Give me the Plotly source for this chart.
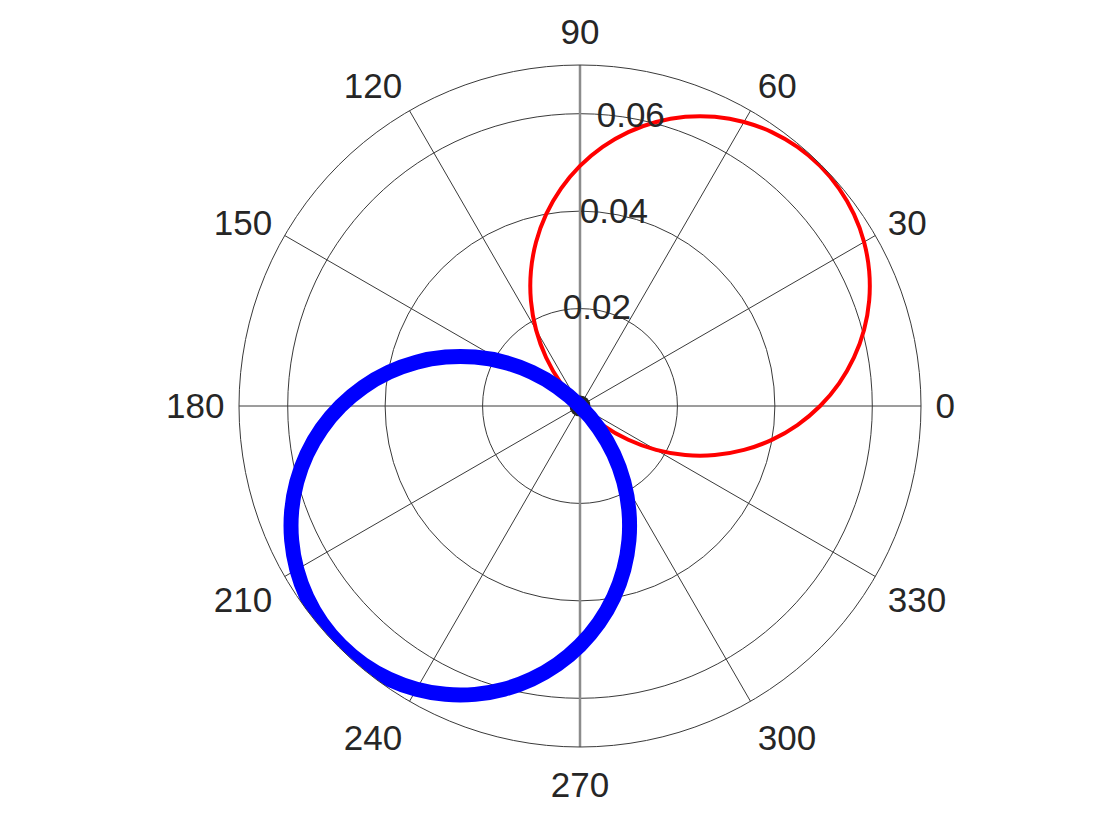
import plotly.graph_objects as go

# Red lobe (theta in degrees, r values)
red_theta = [-45, -40, -35, -30, -25, -20, -15, -10, -5, 0, 5, 10, 15, 20, 25, 30, 35, 40,
             45, 50, 55, 60, 65, 70, 75, 80, 85, 90, 95, 100, 105, 110, 115, 120, 125, 130, 135]
red_r = [0.0, 0.00608, 0.01210, 0.01804, 0.02384, 0.02946, 0.03485, 0.03998, 0.04480,
         0.04929, 0.05339, 0.05709, 0.06036, 0.06317, 0.06550, 0.06733, 0.06864, 0.06943,
         0.06970, 0.06943, 0.06864, 0.06733, 0.06550, 0.06317, 0.06036, 0.05709, 0.05339,
         0.04929, 0.04480, 0.03998, 0.03485, 0.02946, 0.02384, 0.01804, 0.01210, 0.00608, 0.0]

# Blue lobe
blue_theta = [135, 140, 145, 150, 155, 160, 165, 170, 175, 180, 185, 190, 195, 200, 205, 210,
              215, 220, 225, 230, 235, 240, 245, 250, 255, 260, 265, 270, 275, 280, 285, 290,
              295, 300, 305, 310, 315]
blue_r = [0.0, 0.00606, 0.01207, 0.01799, 0.02377, 0.02937, 0.03475, 0.03986, 0.04467,
          0.04914, 0.05324, 0.05693, 0.06019, 0.06299, 0.06531, 0.06713, 0.06844, 0.06924,
          0.06950, 0.06924, 0.06844, 0.06713, 0.06531, 0.06299, 0.06019, 0.05693, 0.05324,
          0.04914, 0.04467, 0.03986, 0.03475, 0.02937, 0.02377, 0.01799, 0.01207, 0.00606, 0.0]

# Axis settings
r_max = 0.07
r_ticks = [0.02, 0.04, 0.06]
r_tick_labels = ["0.02", "0.04", "0.06"]
r_label_angle = 80
theta_ticks = [0, 30, 60, 90, 120, 150, 180, 210, 240, 270, 300, 330]
theta_tick_labels = [str(t) for t in theta_ticks]

# Gray vertical reference line and origin marker
vline_r = [r_max, 0, r_max]
vline_theta = [90, 90, 270]
origin_r = [0]
origin_theta = [0]

TXT = "#262626"
GRID = "#3a3a3a"
FONT = "Liberation Sans, Arial, Helvetica, sans-serif"
FS = 35

fig = go.Figure()
fig.add_trace(go.Scatterpolar(r=vline_r, theta=vline_theta, mode="lines",
                              line=dict(color="#8c8c8c", width=2.5), hoverinfo="skip",
                              showlegend=False))
fig.add_trace(go.Scatterpolar(r=origin_r, theta=origin_theta, mode="markers",
                              marker=dict(color=TXT, size=21), showlegend=False))
fig.add_trace(go.Scatterpolar(r=red_r, theta=red_theta, mode="lines",
                              line=dict(color="#ff0000", width=4, shape="spline"),
                              showlegend=False))
fig.add_trace(go.Scatterpolar(r=blue_r, theta=blue_theta, mode="lines",
                              line=dict(color="#0000ff", width=15, shape="spline"),
                              showlegend=False))
fig.add_trace(go.Scatterpolar(r=r_ticks, theta=[r_label_angle] * len(r_ticks), mode="text",
                              text=r_tick_labels, textposition="middle center",
                              textfont=dict(size=FS, color=TXT, family=FONT),
                              hoverinfo="skip", showlegend=False))

fig.update_layout(
    width=1120, height=840,
    margin=dict(l=0, r=0, t=0, b=0),
    paper_bgcolor="white",
    font=dict(family=FONT, size=FS, color=TXT),
    polar=dict(
        domain=dict(x=[231 / 1120, 913 / 1120], y=[101 / 840, 783 / 840]),
        bgcolor="white",
        angularaxis=dict(
            rotation=0, direction="counterclockwise",
            tickmode="array", tickvals=theta_ticks, ticktext=theta_tick_labels,
            showline=True, linecolor=GRID, linewidth=1,
            showgrid=True, gridcolor=GRID, gridwidth=1,
            ticks="outside", ticklen=7, tickcolor="rgba(0,0,0,0)",
            tickfont=dict(size=FS, color=TXT, family=FONT),
        ),
        radialaxis=dict(
            range=[0, r_max], tickmode="array", tickvals=r_ticks,
            showticklabels=False, showline=False, ticks="",
            showgrid=True, gridcolor=GRID, gridwidth=1,
            angle=r_label_angle,
        ),
    ),
)

fig.write_html("out.html")
